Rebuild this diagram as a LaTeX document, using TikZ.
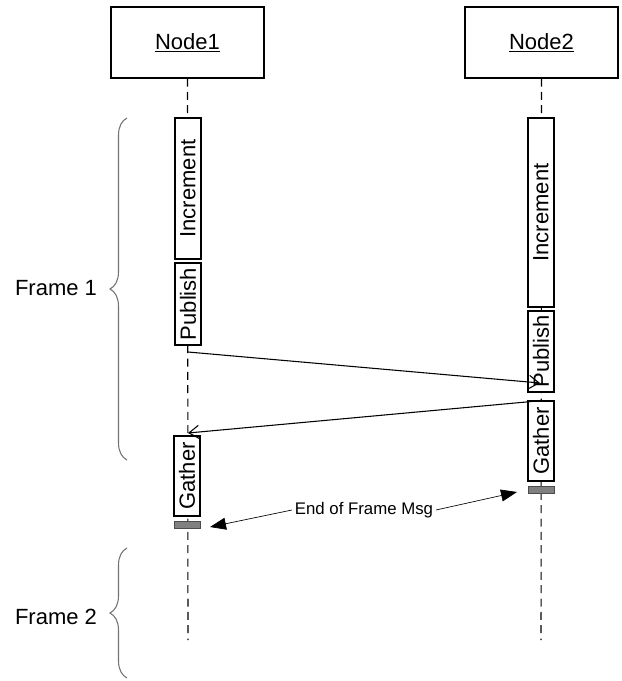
\documentclass[tikz,border=0pt]{standalone}
\usepackage{fontspec}
\setmainfont{Liberation Sans}
\usetikzlibrary{arrows.meta,decorations.pathreplacing}

\begin{document}
\begin{tikzpicture}[x=0.75pt,y=-0.75pt,
  head/.style={draw,line width=0.8pt,minimum width=114.75pt,minimum height=53.25pt,font=\fontsize{16.5}{19}\selectfont},
  act/.style={draw,fill=white,line width=0.8pt,rotate=90,inner sep=0pt,minimum height=19.5pt,font=\fontsize{16.5}{19}\selectfont},
  endbar/.style={draw=black!70,fill=black!50,line width=0.6pt,minimum width=19.5pt,minimum height=5.25pt,inner sep=0pt},
  life/.style={dash pattern=on 6pt off 4pt,line width=0.8pt},
  msg/.style={line width=0.8pt,-{Straight Barb[length=7.5pt,width=10pt]}},
  eofarrow/.style={line width=0.5pt,-{Triangle[length=12pt,width=9pt]}},
  framebrace/.style={draw=black!55,line width=0.8pt,decorate,decoration={brace,amplitude=12.75pt}},
  framelabel/.style={font=\fontsize{16.5}{19}\selectfont}]
\useasboundingbox (0,0) rectangle (621,681);
\node[head] (node1) at (187.5,42.5) {\underline{Node1}};
\node[head] (node2) at (541.5,42.5) {\underline{Node2}};
\coordinate (end1) at (188,640);
\coordinate (end2) at (541,640);
\draw[life] (node1.south) -- (end1);
\draw[life] (node2.south) -- (end2);
\node[act,minimum width=105.75pt] (inc1) at (188,188.5) {Increment};
\node[act,minimum width=61.5pt] (pub1) at (188,304) {Publish};
\node[act,minimum width=60pt] (gat1) at (187,476) {Gather};
\node[endbar] (bar1) at (187,524.5) {};
\node[act,minimum width=141.75pt] (inc2) at (541,212.5) {Increment};
\node[act,minimum width=60.75pt] (pub2) at (541,351.5) {Publish};
\node[act,minimum width=60pt] (gat2) at (541,441) {Gather};
\node[endbar] (bar2) at (541,490) {};
\coordinate (pubsend) at (188,352);
\coordinate (pubrecv) at (540,383);
\coordinate (gatsend) at (537,401);
\coordinate (gatrecv) at (188,433);
\draw[msg] (pubsend) -- (pubrecv);
\draw[msg] (gatsend) -- (gatrecv);
\node[font=\fontsize{12.6}{15}\selectfont,inner sep=2pt] (eofmsg) at (364,510) {End of Frame Msg};
\coordinate (eof1) at (210,527);
\coordinate (eof2) at (517,492);
\draw[eofarrow] (eofmsg.west) -- (eof1);
\draw[eofarrow] (eofmsg.east) -- (eof2);
\node[framelabel] (frame1) at (56,288) {Frame 1};
\node[framelabel] (frame2) at (56,617) {Frame 2};
\draw[framebrace] (127,460) -- (127,118);
\draw[framebrace] (127,678) -- (127,548);
\end{tikzpicture}
\end{document}
